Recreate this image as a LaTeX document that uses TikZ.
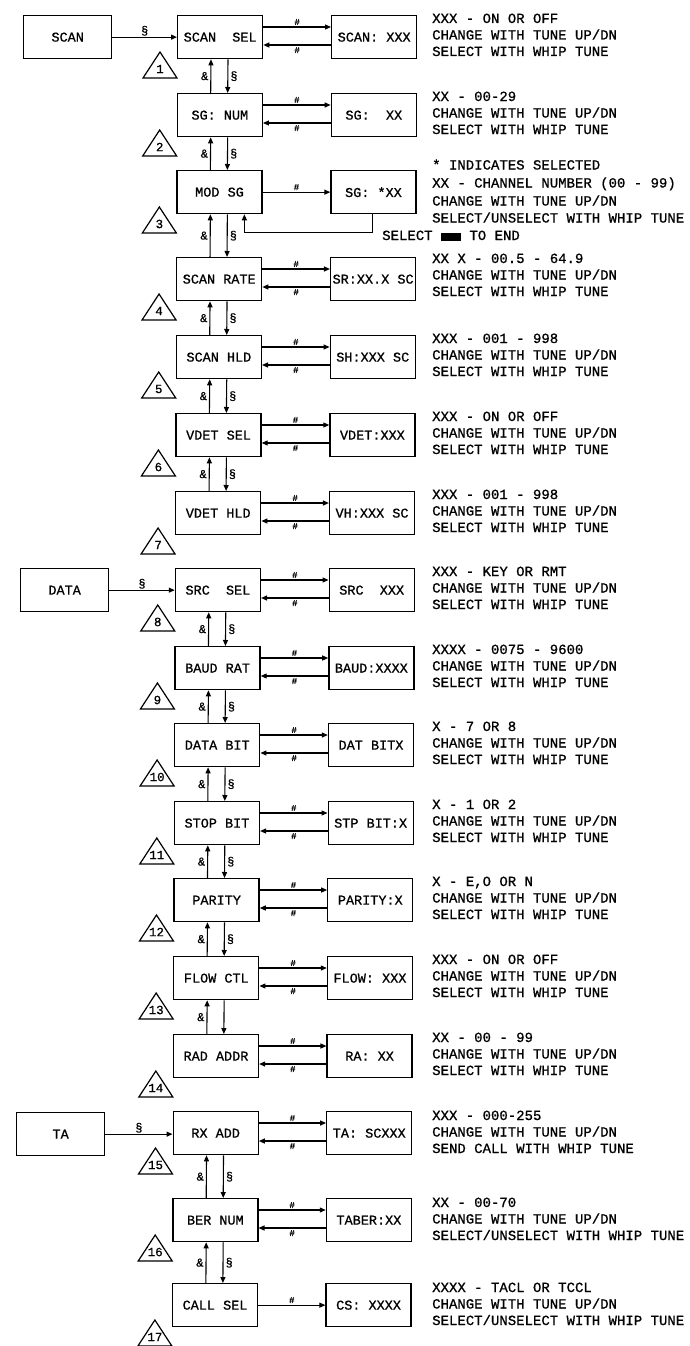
\documentclass[tikz,border=0pt]{standalone}
\usepackage{fontspec}
\newfontfamily\plotfont[FakeBold=0.8]{Liberation Mono}
\usetikzlibrary{arrows.meta,calc}
\tikzset{
 box/.style={draw,line width=1.3pt,minimum width=85pt,minimum height=43pt,inner sep=0pt,anchor=north west,font=\plotfont\fontsize{13.5}{14}\selectfont},
 lbox/.style={box,minimum width=88pt},
 arr/.style={line width=1.1pt,-{Triangle[length=6pt,width=5pt]}},
 lab/.style={font=\plotfont\fontsize{12}{12}\selectfont,inner sep=1pt},
 hlab/.style={font=\plotfont\fontsize{9}{9}\selectfont,inner sep=1.5pt},
 txt/.style={font=\plotfont\fontsize{14}{14}\selectfont,anchor=base west,inner sep=0pt},
 tri/.style={line width=1.2pt},
 trinum/.style={font=\plotfont\fontsize{12.5}{12.5}\selectfont,inner sep=0pt},
}
\newcommand\mkrow[4]{%
 \pgfmathsetmacro\ml{177-0.32*(#1-1)}%
 \pgfmathsetmacro\rl{331-0.35*(#1-1)}%
 \pgfmathsetmacro\bt{#2+43}%
 \node[box] (m#1) at (\ml,#2) {#3};
 \node[box] (r#1) at (\rl,#2) {#4};
 \draw[tri] (\ml-34,\bt+20) -- (\ml-17,\bt-6) -- (\ml,\bt+20) -- cycle;
 \node[trinum] (n#1) at (\ml-17,\bt+11) {#1};
}
\newcommand\pair[1]{%
 \draw[arr] ($(m#1.north east)+(0,12)$) -- node[above,hlab]{\#} ($(r#1.north west)+(0,12)$);
 \draw[arr] ($(r#1.north west)+(0,30)$) -- node[below,hlab]{\#} ($(m#1.north east)+(0,30)$);
}
\newcommand\vlink[3]{%
 \draw[arr] ($(m#2.north west)+(34,0)$) -- node[left=1pt,lab]{\&} ($(m#1.south west)+(34,0)$);
 \draw[arr] ($(m#1.south west)+(51,0)$) -- node[right=1pt,lab]{#3} ($(m#2.north west)+(51,0)$);
}
\newcommand\dsc[5]{%
 \node[txt] (d#1a) at (432,#2) {#3};
 \node[txt] (d#1b) at (432,#2+16.5) {#4};
 \node[txt] (d#1c) at (432,#2+33) {#5};
}
\def\chg{CHANGE WITH TUNE UP/DN}
\def\sel{SELECT WITH WHIP TUNE}
\def\usel{SELECT/UNSELECT WITH WHIP TUNE}
\begin{document}
\begin{tikzpicture}[x=1pt,y=-1pt]
\useasboundingbox (0,0) rectangle (690,1346);
\fill[white] (0,0) rectangle (690,1346);

\mkrow{1}{15}{SCAN~~SEL}{SCAN:~XXX}
\mkrow{2}{93}{SG:~NUM}{SG:~~XX}
\mkrow{3}{170}{MOD~SG}{SG:~*XX}
\mkrow{4}{257}{SCAN~RATE}{SR:XX.X~SC}
\mkrow{5}{335}{SCAN~HLD}{SH:XXX~SC}
\mkrow{6}{413}{VDET~SEL}{VDET:XXX}
\mkrow{7}{491}{VDET~HLD}{VH:XXX~SC}
\mkrow{8}{568}{SRC~~SEL}{SRC~~XXX}
\mkrow{9}{646}{BAUD~RAT}{BAUD:XXXX}
\mkrow{10}{723}{DATA~BIT}{DAT~BITX}
\mkrow{11}{801}{STOP~BIT}{STP~BIT:X}
\mkrow{12}{878}{PARITY}{PARITY:X}
\mkrow{13}{956}{FLOW~CTL}{FLOW:~XXX}
\mkrow{14}{1034}{RAD~ADDR}{RA:~XX}
\mkrow{15}{1111}{RX~ADD}{TA:~SCXXX}
\mkrow{16}{1198}{BER~NUM}{TABER:XX}
\mkrow{17}{1283}{CALL~SEL}{CS:~XXXX}

% left group boxes
\node[lbox] (scan) at (23,15) {SCAN};
\node[lbox] (data) at (20,568) {DATA};
\node[lbox] (ta) at (16,1112) {TA};
\draw[arr] (scan.east) -- node[above,lab]{§} (scan.east -| m1.west);
\draw[arr] (data.east) -- node[above,lab]{§} (data.east -| m8.west);
\draw[arr] (ta.east) -- node[above,lab]{§} (ta.east -| m15.west);

% horizontal arrows
\pair{1}\pair{2}\pair{4}\pair{5}\pair{6}\pair{7}\pair{8}\pair{9}
\pair{10}\pair{11}\pair{12}\pair{13}\pair{14}\pair{15}\pair{16}
\draw[arr] (m3.east) -- node[above,hlab]{\#} (r3.west);
\draw[arr] (m17.east) -- node[above,hlab]{\#} (r17.west);

% vertical links
\vlink{1}{2}{§}\vlink{2}{3}{§}\vlink{3}{4}{§}\vlink{4}{5}{§}\vlink{5}{6}{§}\vlink{6}{7}{§}
\vlink{8}{9}{§}\vlink{9}{10}{§}\vlink{10}{11}{§}\vlink{11}{12}{§}\vlink{12}{13}{§}\vlink{13}{14}{}
\vlink{15}{16}{§}\vlink{16}{17}{§}

% MOD SG return path
\coordinate (rt) at ($(r3.south west)+(42,18)$);
\draw[arr] ($(r3.south west)+(42,0)$) -- (rt) -| ($(m3.south west)+(68,0)$);
\node[txt] (selend) at (382,240) {SELECT \rule[-0.5pt]{20pt}{8pt} TO END};

% descriptions
\dsc{1}{23}{XXX - ON OR OFF}{\chg}{\sel}
\dsc{2}{101}{XX - 00-29}{\chg}{\sel}
\node[txt] (d3a) at (432,169.5) {* INDICATES SELECTED};
\node[txt] (d3b) at (432,187.5) {XX - CHANNEL NUMBER (00 - 99)};
\node[txt] (d3c) at (432,205.5) {\chg};
\node[txt] (d3d) at (432,222.5) {\usel};
\dsc{4}{263}{XX X - 00.5 - 64.9}{\chg}{\sel}
\dsc{5}{343}{XXX - 001 - 998}{\chg}{\sel}
\dsc{6}{421}{XXX - ON OR OFF}{\chg}{\sel}
\dsc{7}{499}{XXX - 001 - 998}{\chg}{\sel}
\dsc{8}{576}{XXX - KEY OR RMT}{\chg}{\sel}
\dsc{9}{654}{XXXX - 0075 - 9600}{\chg}{\sel}
\dsc{10}{731}{X - 7 OR 8}{\chg}{\sel}
\dsc{11}{809}{X - 1 OR 2}{\chg}{\sel}
\dsc{12}{886}{X - E,O OR N}{\chg}{\sel}
\dsc{13}{964}{XXX - ON OR OFF}{\chg}{\sel}
\dsc{14}{1042}{XX - 00 - 99}{\chg}{\sel}
\dsc{15}{1120}{XXX - 000-255}{\chg}{SEND CALL WITH WHIP TUNE}
\dsc{16}{1207}{XX - 00-70}{\chg}{\usel}
\dsc{17}{1292}{XXXX - TACL OR TCCL}{\chg}{\usel}
\end{tikzpicture}
\end{document}
